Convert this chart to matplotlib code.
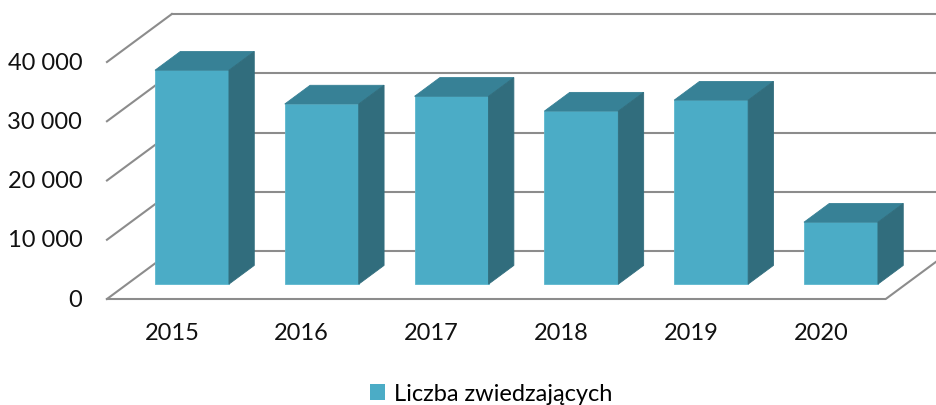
import matplotlib.pyplot as plt
from matplotlib.patches import Polygon, Patch

years = ['2015', '2016', '2017', '2018', '2019', '2020']
visitors = [36100, 30400, 31700, 29200, 31050, 10450]
y_ticks = [0, 10000, 20000, 30000, 40000]
y_labels = ['0', '10 000', '20 000', '30 000', '40 000']
series_name = 'Liczba zwiedzających'

# oblique "3D" look: depth 0..1 shifts by (DX, DY)
DX, DY = 0.5, 8100
Z0, Z1 = 0.31, 0.70
W = 0.57

c_front = '#4BACC6'
c_top = '#378196'
c_side = '#316D7D'
c_grid = '#8C8C8C'

plt.rcParams['font.family'] = ['Lato', 'DejaVu Sans']

fig = plt.figure(figsize=(9.37, 4.06), dpi=100)
ax = fig.add_axes([0, 0, 1, 1])
ax.set_xlim(-1.324, 5.895)
ax.set_ylim(-17890, 50633)
ax.axis('off')

n = len(years)
x0, x1 = -0.5, n - 0.5

# walls and floor
for v in y_ticks:
    ax.plot([x0, x0 + DX], [v, v + DY], color=c_grid, lw=1.5, zorder=1)
    ax.plot([x0 + DX, x1 + DX + 0.2], [v + DY, v + DY], color=c_grid, lw=1.5, zorder=1)
ax.plot([x0, x1, x1 + DX], [0, 0, DY], color=c_grid, lw=1.5, zorder=1)

# bars
for i, v in enumerate(visitors):
    l = i - W / 2 + Z0 * DX
    r = i + W / 2 + Z0 * DX
    b = Z0 * DY
    t = v + Z0 * DY
    ddx = (Z1 - Z0) * DX
    ddy = (Z1 - Z0) * DY
    ax.add_patch(Polygon([(l, b), (r, b), (r, t), (l, t)], closed=True,
                         facecolor=c_front, edgecolor='#5DB8CE', lw=0.6, zorder=3))
    ax.add_patch(Polygon([(l, t), (r, t), (r + ddx, t + ddy), (l + ddx, t + ddy)],
                         closed=True, facecolor=c_top, edgecolor=c_top, lw=0.6, zorder=3))
    ax.add_patch(Polygon([(r, b), (r + ddx, b + ddy), (r + ddx, t + ddy), (r, t)],
                         closed=True, facecolor=c_side, edgecolor=c_side, lw=0.6, zorder=3))
    ax.text(i, -5700, years[i], ha='center', va='center', fontsize=17, color='#111111')

for v, lab in zip(y_ticks, y_labels):
    ax.text(-0.69, v, lab, ha='right', va='center', fontsize=17, color='#111111')

fig.legend(handles=[Patch(facecolor=c_front, edgecolor='none')], labels=[series_name],
           loc='center', bbox_to_anchor=(0.524, 0.028), frameon=False, fontsize=17,
           handlelength=0.65, handleheight=0.65, handletextpad=0.35, borderaxespad=0)

fig.savefig('out.png', dpi=100)
